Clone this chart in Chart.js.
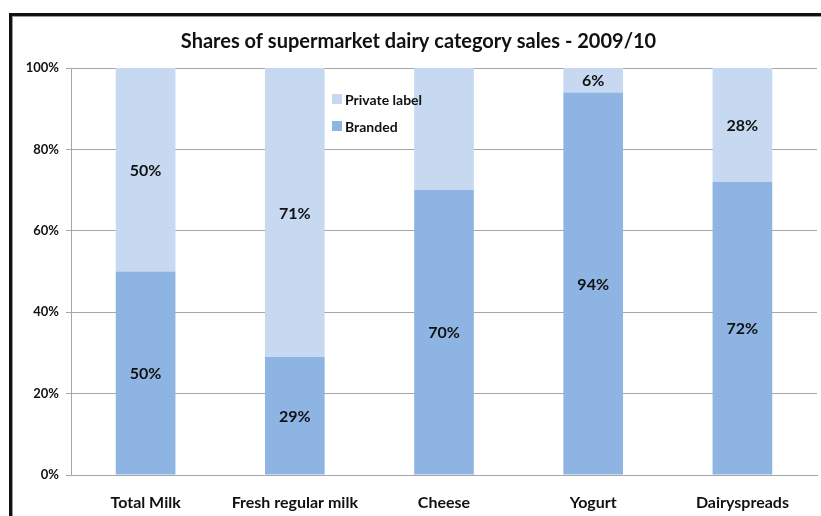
<!DOCTYPE html>
<html>
<head>
<meta charset="utf-8">
<script src="https://cdn.jsdelivr.net/npm/chart.js@4"></script>
<style>
  html, body { margin: 0; padding: 0; background: #fff; }
  #wrap { position: relative; width: 821px; height: 516px; overflow: hidden; }
  #frame {
    position: absolute; left: 9px; top: 13px; width: 900px; height: 600px;
    border-top: 3px solid #111; border-left: 3px solid #111;
    box-shadow: inset 1px 1px 0 #999;
  }
  canvas { position: absolute; left: 0; top: 0; }
</style>
</head>
<body>
<div id="wrap">
  <div id="frame"></div>
  <canvas id="chart" width="821" height="516"></canvas>
</div>
<script>
// ————— datos —————
const categories   = ['Total Milk', 'Fresh regular milk', 'Cheese', 'Yogurt', 'Dairyspreads'];
const branded      = [50, 29, 70, 94, 72];
const privateLabel = [50, 71, 30, 6, 28];
// Cheese no lleva etiqueta de marca propia en el original
const privateLabelShown = [true, true, false, true, true];
const yTicks       = [0, 20, 40, 60, 80, 100];

const FONT = 'Lato, "Open Sans", sans-serif';
const COLORS = {
  PRIVATE: '#C6D9F1',
  BRANDED: '#8EB4E3',
  GRID:    '#A6A6A6',
  TEXT:    '#111'
};

// etiquetas dentro de cada segmento
const segmentLabels = {
  id: 'segmentLabels',
  afterDatasetsDraw(chart) {
    const ctx = chart.ctx;
    ctx.save();
    ctx.font = 'bold 16px ' + FONT;
    ctx.fillStyle = COLORS.TEXT;
    ctx.textAlign = 'center';
    ctx.textBaseline = 'middle';
    chart.data.datasets.forEach((ds, i) => {
      chart.getDatasetMeta(i).data.forEach((bar, j) => {
        if (ds.shown && !ds.shown[j]) return;
        const y = (bar.y + bar.base) / 2;
        ctx.fillText(ds.data[j] + '%', bar.x, y + 1);
      });
    });
    ctx.restore();
  }
};

// leyenda dentro del área
const innerLegend = {
  id: 'innerLegend',
  afterDraw(chart) {
    const ctx = chart.ctx;
    const items = [
      { text: 'Private label', color: COLORS.PRIVATE },
      { text: 'Branded',       color: COLORS.BRANDED }
    ];
    ctx.save();
    ctx.font = 'bold 14px ' + FONT;
    ctx.textBaseline = 'middle';
    items.forEach((it, i) => {
      const y = 99 + i * 27;
      ctx.fillStyle = it.color;
      ctx.fillRect(332, y - 5, 10, 10);
      ctx.fillStyle = COLORS.TEXT;
      ctx.fillText(it.text, 345, y + 1);
    });
    ctx.restore();
  }
};

new Chart(document.getElementById('chart').getContext('2d'), {
  type: 'bar',
  data: {
    labels: categories,
    datasets: [
      { label: 'Branded', data: branded, backgroundColor: COLORS.BRANDED,
        categoryPercentage: 1, barPercentage: 0.4 },
      { label: 'Private label', data: privateLabel, shown: privateLabelShown,
        backgroundColor: COLORS.PRIVATE, categoryPercentage: 1, barPercentage: 0.4 }
    ]
  },
  options: {
    responsive: false,
    animation: false,
    layout: { padding: { left: 20, right: 4, top: 30, bottom: 0 } },
    plugins: {
      legend: { display: false },
      tooltip: { enabled: false },
      title: {
        display: true,
        text: 'Shares of supermarket dairy category sales - 2009/10',
        color: COLORS.TEXT,
        font: { family: FONT, size: 20, weight: 'bold' },
        padding: { top: 0, bottom: 14 }
      }
    },
    scales: {
      x: {
        stacked: true,
        grid: { display: false },
        border: { display: true, color: COLORS.GRID },
        ticks: { color: COLORS.TEXT, font: { family: FONT, size: 16, weight: 'bold' }, padding: 10 },
        afterFit: s => { s.height = 41; }
      },
      y: {
        stacked: true,
        min: 0, max: 100,
        afterBuildTicks: s => { s.ticks = yTicks.map(v => ({ value: v })); },
        grid: { color: COLORS.GRID, tickLength: 5 },
        border: { display: true, color: COLORS.GRID },
        ticks: {
          color: COLORS.TEXT,
          font: { family: FONT, size: 13, weight: 'bold' },
          padding: 7,
          callback: v => v + '%'
        },
        afterFit: s => { s.width = 51; }
      }
    }
  },
  plugins: [segmentLabels, innerLegend]
});
</script>
</body>
</html>
